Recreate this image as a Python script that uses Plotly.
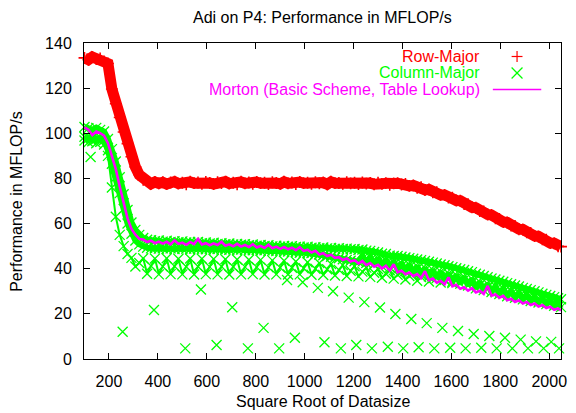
import plotly.graph_objects as go

# Sweep of problem sizes (square root of the data size), one sample every 16
sizes = list(range(100, 2037, 16)) + [2048]

# Row-major traversal, MFLOP/s
row_major = [
    133.4, 132.6, 133.8, 132.9, 133.1, 131.8, 130.9, 119.6, 113.1, 107.0,
    100.6, 95.4, 89.6, 85.1, 81.6, 79.4, 78.9, 77.6, 78.4, 77.8,
    78.3, 77.5, 78.2, 78.6, 77.7, 78.1, 77.4, 78.5, 77.9, 78.2,
    77.6, 78.4, 78.0, 77.5, 78.3, 77.9, 78.6, 77.7, 78.1, 77.4,
    78.5, 77.8, 78.2, 77.6, 78.4, 77.9, 78.1, 77.5, 78.3, 78.0,
    77.6, 78.5, 77.8, 78.2, 77.5, 78.4, 77.9, 78.1, 77.6, 78.3,
    77.8, 78.2, 77.4, 78.5, 77.9, 78.0, 77.6, 78.3, 77.8, 78.1,
    77.5, 78.2, 77.7, 78.0, 77.4, 78.1, 77.6, 77.9, 77.2, 77.8,
    77.9, 77.3, 77.6, 76.7, 76.9, 75.9, 76.1, 74.9, 75.1, 73.8,
    73.9, 72.7, 72.7, 71.5, 71.5, 70.2, 70.1, 68.7, 68.6, 67.2,
    67.0, 65.6, 65.4, 64.0, 63.8, 62.3, 62.1, 60.7, 60.5, 59.1,
    58.9, 57.5, 57.4, 56.1, 55.9, 54.5, 54.3, 53.0, 52.8, 51.4,
    51.3, 49.9, 49.8,
]

# Morton order (basic scheme, table lookup), MFLOP/s
morton = [
    102.6, 101.6, 99.2, 100.8, 100.1, 99.0, 95.6, 90.2, 84.1, 76.4,
    69.2, 62.3, 57.6, 55.1, 53.2, 52.9, 51.8, 52.4, 51.3, 52.0,
    51.1, 51.9, 50.8, 52.6, 51.0, 51.5, 50.6, 51.8, 50.9, 53.2,
    50.7, 51.3, 50.4, 51.2, 50.5, 51.9, 50.2, 50.8, 49.9, 51.0,
    49.8, 50.5, 49.6, 50.9, 49.4, 50.1, 49.2, 50.6, 49.1, 49.8,
    48.8, 49.6, 48.6, 49.3, 48.2, 49.5, 47.9, 48.4, 47.2, 47.9,
    46.3, 46.9, 45.6, 46.2, 44.8, 45.1, 43.9, 44.6, 43.2, 43.8,
    42.3, 43.4, 41.6, 42.5, 40.9, 41.7, 40.1, 41.3, 39.2, 42.0,
    38.4, 39.1, 37.6, 38.3, 36.7, 37.6, 35.8, 38.9, 34.9, 35.6,
    33.8, 34.6, 33.0, 36.2, 32.2, 32.9, 31.1, 31.8, 30.3, 31.4,
    29.5, 30.2, 28.8, 32.4, 28.1, 28.6, 27.2, 28.0, 26.0, 26.7,
    25.3, 26.0, 24.6, 25.3, 23.9, 24.6, 23.2, 23.9, 22.6, 23.2,
    21.8, 22.4, 21.5,
]

# Column-major traversal: runs of measurements that land in different bands
col_upper_a = [
    102.8, 102.2, 101.6, 102.4, 101.5, 100.8, 97.5, 93.0, 87.5, 80.5,
    73.0, 66.0, 60.5, 57.2, 55.0, 53.6, 52.8, 52.6, 52.2, 52.5,
    52.0, 52.4, 51.9, 52.2, 51.7, 52.1, 51.6, 51.9, 51.5, 51.8,
    51.3, 51.6, 51.2, 51.5, 51.0, 51.3, 50.9, 51.2, 50.7, 51.0,
    50.6, 50.9, 50.4, 50.7, 50.2, 50.5, 50.1, 50.4, 49.9, 50.2,
    49.8, 50.1, 49.7, 50.0, 49.6, 49.8, 49.4, 49.7, 49.3, 49.5,
    49.1, 49.4, 49.0, 49.2, 48.8, 49.1, 48.7, 48.9, 48.6, 48.7,
    48.3, 48.5, 48.0, 47.9, 47.4, 47.2, 46.6, 46.5, 45.8, 45.6,
    45.6, 45.3, 45.0, 44.7, 44.4, 44.1, 43.8, 43.4, 43.1, 42.7,
    42.3, 41.9, 41.5, 41.1, 40.7, 40.2, 39.8, 39.4, 38.9, 38.5,
    37.8, 37.3, 36.8, 36.2, 35.7, 35.2, 34.7, 34.2, 33.6, 33.1,
    32.6, 32.1, 31.5, 31.0, 30.5, 30.0, 29.5, 28.9, 28.4, 27.9,
    27.4, 26.9, 26.5,
]
col_upper_b = [
    98.5, 97.8, 99.0, 97.5, 98.2, 97.0, 92.5, 86.5, 80.5, 73.5,
    66.5, 60.0, 55.5, 52.5, 50.8, 49.8, 49.3, 49.0, 49.2, 48.9,
    49.1, 48.8, 49.0, 48.7, 49.0, 48.8, 48.9, 48.6, 48.9, 48.7,
    48.8, 48.6, 48.8, 48.5, 48.7, 48.5, 48.6, 48.4, 48.6, 48.3,
    48.5, 48.3, 48.4, 48.2, 48.3, 48.1, 48.2, 47.9, 48.0, 47.8,
    47.8, 47.6, 47.6, 47.4, 47.4, 47.1, 47.2, 46.9, 46.9, 46.6,
    46.3, 46.0, 45.6, 45.3, 44.9, 44.6, 44.2, 43.9, 43.5, 43.3,
    43.0, 45.7, 42.5, 45.2, 41.9, 44.7, 41.2, 44.0, 40.5, 43.3,
    39.7, 42.6, 39.0, 41.9, 38.2, 41.1, 37.4, 40.3, 36.6, 39.5,
    35.9, 38.7, 35.0, 37.9, 34.2, 37.1, 33.4, 36.3, 32.6, 35.5,
    31.3, 34.1, 30.5, 33.3, 29.7, 32.2, 28.8, 31.2, 27.8, 30.2,
    27.1, 29.4, 26.4, 28.5, 25.7, 27.6, 25.0, 26.8, 24.3, 25.9,
    23.6, 25.1, 23.0,
]
col_lower = [
    96.8, 96.0, 96.5, 95.6, 96.2, 95.0, 90.0, 76.0, 63.0, 55.0,
    50.0, 46.5, 44.8, 41.0, 42.5, 44.6, 37.8, 41.2, 44.5, 37.5,
    41.0, 44.6, 37.6, 41.1, 44.4, 37.5, 40.9, 44.5, 37.4, 41.0,
    44.4, 37.6, 40.8, 44.3, 37.5, 41.0, 44.2, 37.4, 40.9, 44.1,
    37.5, 40.8, 44.0, 37.6, 40.7, 43.9, 37.4, 40.6, 43.7, 37.5,
    40.5, 43.5, 37.4, 40.4, 43.2, 37.5, 40.2, 42.9, 37.3, 40.0,
    42.5, 37.2, 39.8, 42.1, 37.0, 39.5, 41.6, 36.8, 39.1, 41.1,
    36.6, 38.7, 40.5, 36.4, 38.2, 39.9, 36.0, 37.8, 39.3, 35.6,
    37.3, 38.8, 35.2, 36.8, 38.2, 34.7, 36.3, 37.6, 34.3, 35.9,
    37.0, 33.9, 35.4, 36.3, 33.6, 35.0,
]
# Isolated slow column-major runs (cache conflicts at special sizes)
col_slow_sizes = [
    125, 256, 384, 512, 576, 640, 704, 768, 832, 896,
    928, 960, 992, 1054, 1081, 1116, 1148, 1180, 1211, 1244,
    1275, 1308, 1340, 1371, 1403, 1436, 1466, 1499, 1530, 1563,
    1595, 1627, 1658, 1691, 1722, 1755, 1785, 1819, 1849, 1883,
    1913, 1946, 1977, 2008, 2040,
]
col_slow_values = [
    89.5, 12.1, 21.7, 4.7, 30.8, 6.2, 22.9, 4.7, 13.8, 4.7,
    35.0, 9.4, 34.0, 31.5, 7.4, 30.0, 4.7, 27.2, 6.2, 25.2,
    4.7, 22.8, 5.4, 19.9, 4.7, 17.7, 5.2, 15.9, 4.7, 13.8,
    5.0, 12.4, 4.7, 11.1, 5.0, 10.2, 4.7, 9.4, 4.7, 8.6,
    4.7, 7.8, 4.7, 7.6, 4.7,
]

legend_labels = ["Row-Major", "Column-Major", "Morton (Basic Scheme, Table Lookup)"]
RED, GREEN, MAGENTA = "#ff0000", "#00ff00", "#ff00ff"

lower_sizes = sizes[:len(col_lower)]
col_x = sizes + sizes + lower_sizes + col_slow_sizes
col_y = col_upper_a + col_upper_b + col_lower + col_slow_values

fig = go.Figure()
# dense core of the row-major band (consecutive sizes overlap into a solid ribbon)
fig.add_trace(go.Scatter(x=sizes, y=row_major, mode="lines",
                         line=dict(color=RED, width=11), hoverinfo="skip"))
fig.add_trace(go.Scatter(x=sizes, y=row_major, mode="markers", name=legend_labels[0],
                         marker=dict(symbol="cross-thin", size=8.5, color=RED,
                                     line=dict(color=RED, width=1.6)),
                         cliponaxis=False))
# dense core of the column-major bands
for band, w in ((col_upper_a, 6), (col_upper_b, 6), (col_lower, 2)):
    fig.add_trace(go.Scatter(x=sizes[:len(band)], y=band, mode="lines",
                             line=dict(color=GREEN, width=w), hoverinfo="skip"))
fig.add_trace(go.Scatter(x=col_x, y=col_y, mode="markers", name=legend_labels[1],
                         marker=dict(symbol="x-thin", size=10, color=GREEN,
                                     line=dict(color=GREEN, width=1.3)),
                         cliponaxis=False))
fig.add_trace(go.Scatter(x=sizes, y=morton, mode="lines", name=legend_labels[2],
                         line=dict(color=MAGENTA, width=2.6)))

# plot-area geometry in pixels
L, R, T, B = 84, 567, 43, 359
W, H = R - L, B - T


def px(x):
    return (x - L) / W


def py(y):
    return (B - y) / H


FONT = "Liberation Sans, Arial, Helvetica, sans-serif"

annotations = [
    dict(text="Adi on P4: Performance in MFLOP/s", x=0.5, y=py(17), xref="paper", yref="paper",
         showarrow=False, xanchor="center", yanchor="middle", font=dict(size=16, color="black")),
    dict(text="Square Root of Datasize", x=0.5, y=py(401), xref="paper", yref="paper",
         showarrow=False, xanchor="center", yanchor="middle", font=dict(size=16, color="black")),
    dict(text="Performance in MFLOP/s", x=px(15), y=0.5, xref="paper", yref="paper",
         showarrow=False, xanchor="center", yanchor="middle", textangle=-90,
         font=dict(size=16, color="black")),
]
key_rows = [56.5, 73.0, 89.5]
for label, colour, yy in zip(legend_labels, [RED, GREEN, MAGENTA], key_rows):
    annotations.append(dict(text=label, x=px(487), y=py(yy), xref="paper", yref="paper",
                            showarrow=False, xanchor="right", yanchor="middle",
                            font=dict(size=16, color=colour)))

# key samples: '+', 'x' and a line segment
cx = 522.5
shapes = [
    dict(type="line", xref="paper", yref="paper", x0=px(cx - 5.5), x1=px(cx + 5.5),
         y0=py(key_rows[0]), y1=py(key_rows[0]), line=dict(color=RED, width=1.2)),
    dict(type="line", xref="paper", yref="paper", x0=px(cx), x1=px(cx),
         y0=py(key_rows[0] - 5.5), y1=py(key_rows[0] + 5.5), line=dict(color=RED, width=1.2)),
    dict(type="line", xref="paper", yref="paper", x0=px(cx - 5.5), x1=px(cx + 5.5),
         y0=py(key_rows[1] - 5.5), y1=py(key_rows[1] + 5.5), line=dict(color=GREEN, width=1.2)),
    dict(type="line", xref="paper", yref="paper", x0=px(cx - 5.5), x1=px(cx + 5.5),
         y0=py(key_rows[1] + 5.5), y1=py(key_rows[1] - 5.5), line=dict(color=GREEN, width=1.2)),
    dict(type="line", xref="paper", yref="paper", x0=px(498), x1=px(547),
         y0=py(key_rows[2]), y1=py(key_rows[2]), line=dict(color=MAGENTA, width=1.5)),
]

axis_style = dict(showline=True, linecolor="black", linewidth=1, mirror="ticks",
                  ticks="inside", ticklen=6, tickcolor="black", tickwidth=1,
                  showgrid=False, zeroline=False,
                  tickfont=dict(size=16, color="black", family=FONT))

fig.update_layout(
    width=576, height=413,
    margin=dict(l=L, r=576 - R, t=T, b=413 - B),
    paper_bgcolor="white", plot_bgcolor="white",
    showlegend=False,
    font=dict(family=FONT, size=16, color="black"),
    xaxis=dict(range=[98, 2048], tickmode="array",
               tickvals=[200, 400, 600, 800, 1000, 1200, 1400, 1600, 1800, 2000],
               ticklabelstandoff=8, **axis_style),
    yaxis=dict(range=[0, 140], tickmode="array",
               tickvals=[0, 20, 40, 60, 80, 100, 120, 140],
               ticklabelstandoff=8, **axis_style),
    annotations=annotations,
    shapes=shapes,
)

fig.write_html("out.html")
